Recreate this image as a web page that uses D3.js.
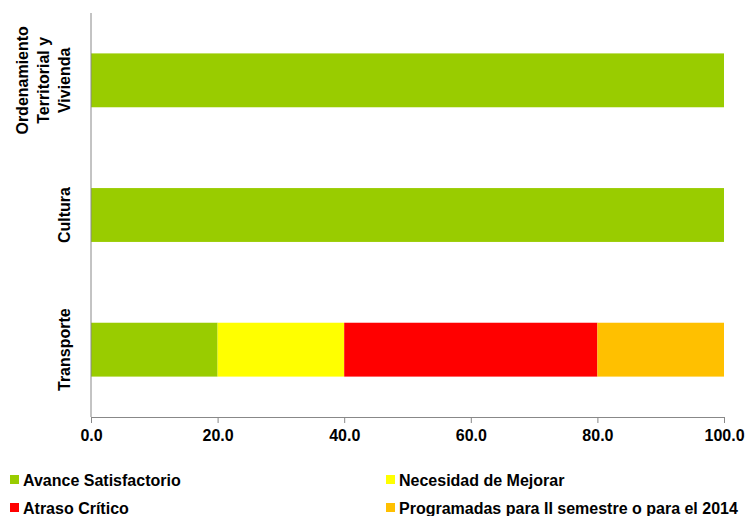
<!DOCTYPE html>
<html>
<head>
<meta charset="utf-8">
<script src="https://cdn.jsdelivr.net/npm/d3@7"></script>
<style>
  body { margin: 0; background: #fff; }
  svg text { font-family: "Liberation Sans", Arial, sans-serif; font-weight: bold; }
</style>
</head>
<body>
<svg id="chart" width="748" height="516"></svg>
<script>
// categories top to bottom
const categories = ["Ordenamiento Territorial y Vivienda", "Cultura", "Transporte"];
const categoryLines = [["Ordenamiento", "Territorial y", "Vivienda"], ["Cultura"], ["Transporte"]];
const seriesNames = ["Avance Satisfactorio", "Necesidad de Mejorar", "Atraso Crítico", "Programadas para II semestre o para el 2014"];
const seriesColors = ["#99CC00", "#FFFF00", "#FF0000", "#FFC000"];
const satisfactorio = [100, 100, 20];
const mejorar = [0, 0, 20];
const atraso = [0, 0, 40];
const programadas = [0, 0, 20];
const xTicks = [0, 20, 40, 60, 80, 100];

const svg = d3.select("#chart");
const margin = {left: 91, right: 24, top: 13, bottom: 99};
const W = 748, H = 516;

const rows = categories.map((c, i) => ({
  cat: c, vals: [satisfactorio[i], mejorar[i], atraso[i], programadas[i]]
}));

const x = d3.scaleLinear().domain([0, 100]).range([margin.left, W - margin.right]);
const y = d3.scaleBand().domain(categories).range([margin.top, H - margin.bottom]).paddingInner(0.6).paddingOuter(0.3);

// bars
rows.forEach(r => {
  let acc = 0;
  r.vals.forEach((v, k) => {
    if (v > 0) {
      svg.append("rect")
        .attr("x", x(acc)).attr("y", y(r.cat))
        .attr("width", x(acc + v) - x(acc)).attr("height", y.bandwidth())
        .attr("fill", seriesColors[k]);
    }
    acc += v;
  });
});

// x axis
const xAxis = svg.append("g")
  .attr("transform", `translate(0,${H - margin.bottom})`)
  .call(d3.axisBottom(x).tickValues(xTicks).tickFormat(d3.format(".1f")).tickSize(6).tickSizeOuter(0));
xAxis.select(".domain").attr("stroke", "#888");
xAxis.selectAll(".tick line").attr("stroke", "#888");
xAxis.selectAll("text").attr("font-size", 16).attr("fill", "#000").attr("dy", "0.95em");

// y axis line
svg.append("line")
  .attr("x1", margin.left).attr("x2", margin.left)
  .attr("y1", margin.top).attr("y2", H - margin.bottom)
  .attr("stroke", "#888");

// y labels, rotated
categories.forEach((c, i) => {
  const lines = categoryLines[i];
  const cy = y(c) + y.bandwidth() / 2;
  const t = svg.append("text")
    .attr("transform", `translate(70,${cy}) rotate(-90)`)
    .attr("text-anchor", "middle")
    .attr("font-size", 16).attr("fill", "#000");
  lines.forEach((l, j) => {
    t.append("tspan").attr("x", 0).attr("y", -(lines.length - 1 - j) * 21).text(l);
  });
});

// legend
const legendPos = [[10, 480], [386, 480], [10, 508], [386, 508]];
seriesNames.forEach((n, k) => {
  const [lx, ly] = legendPos[k];
  svg.append("rect").attr("x", lx).attr("y", ly - 5).attr("width", 9).attr("height", 9).attr("fill", seriesColors[k]);
  svg.append("text").attr("x", lx + 13).attr("y", ly + 6).attr("font-size", 16).attr("fill", "#000").text(n);
});
</script>
</body>
</html>
